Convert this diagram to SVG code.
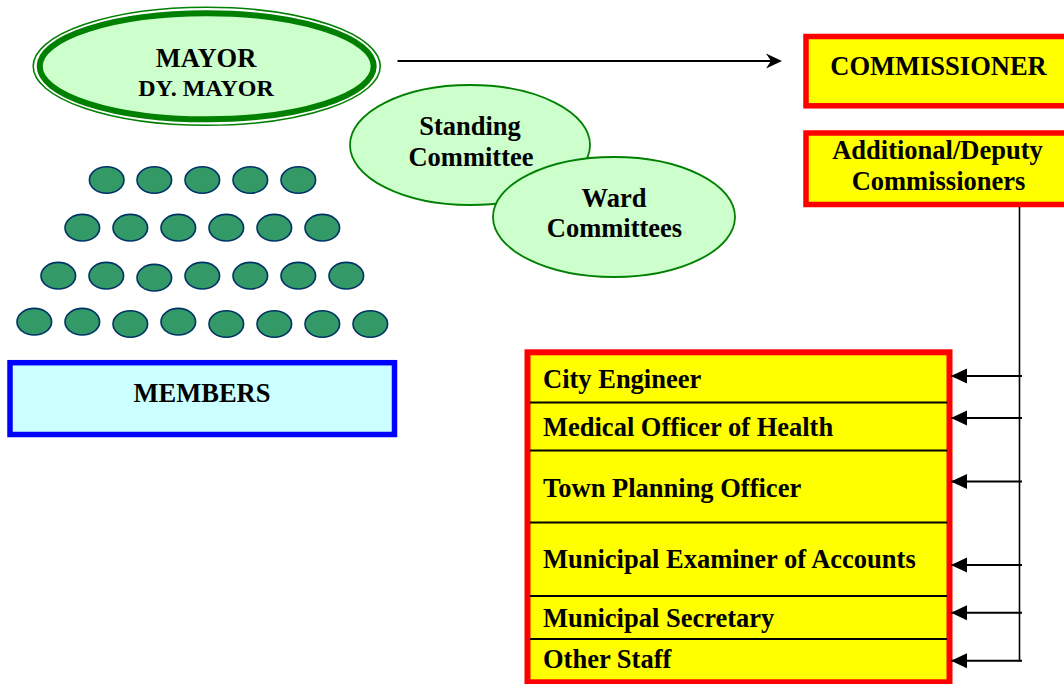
<svg xmlns="http://www.w3.org/2000/svg" width="1064" height="684" viewBox="0 0 1064 684">
<style>
.t{font-family:"Liberation Serif","Times New Roman",serif;font-weight:bold;font-size:26.5px;fill:#000}
.c{text-anchor:middle}
.com{fill:#CCFFCC;stroke:#008000;stroke-width:1.8}
.dot{fill:#339966;stroke:#003366;stroke-width:1.6}
.box{fill:#FFFF00;stroke:#FF0000;stroke-width:5.5}
.div{stroke:#000;stroke-width:2}
.conn{stroke:#000;stroke-width:2;fill:none}
</style>
<defs>
<marker id="tri" viewBox="0 0 16 16" refX="16" refY="8" markerWidth="16" markerHeight="16" markerUnits="userSpaceOnUse" orient="auto">
<path d="M0,0.5 L16,8 L0,15.5 Z" fill="#000"/>
</marker>
</defs>
<rect width="1064" height="684" fill="#fff"/>

<g id="mayor">
<ellipse cx="206.7" cy="66.3" rx="173.5" ry="59" fill="none" stroke="#008000" stroke-width="1.6"/>
<ellipse cx="206.7" cy="66.3" rx="167" ry="53" fill="#CCFFCC" stroke="#008000" stroke-width="6"/>
<text class="t c" x="206" y="66.7">MAYOR</text>
<text class="t c" x="206" y="95.7" style="font-size:24px">DY. MAYOR</text>
</g>

<g id="standing-committee">
<ellipse class="com" cx="470" cy="145" rx="120" ry="60"/>
<text class="t c" x="470" y="135">Standing</text>
<text class="t c" x="471" y="166">Committee</text>
</g>

<g id="ward-committees">
<ellipse class="com" cx="614" cy="217" rx="121" ry="60"/>
<text class="t c" x="614" y="207">Ward</text>
<text class="t c" x="614.5" y="237.3">Committees</text>
</g>

<g id="members-dots">
<g class="dot">
<ellipse cx="106.7" cy="180" rx="17.3" ry="13.3"/>
<ellipse cx="154.3" cy="180" rx="17.3" ry="13.3"/>
<ellipse cx="202.3" cy="180" rx="17.3" ry="13.3"/>
<ellipse cx="250.3" cy="180" rx="17.3" ry="13.3"/>
<ellipse cx="298.3" cy="180" rx="17.3" ry="13.3"/>
<ellipse cx="82.3" cy="227.7" rx="17.3" ry="13.3"/>
<ellipse cx="130.3" cy="227.7" rx="17.3" ry="13.3"/>
<ellipse cx="178.3" cy="227.7" rx="17.3" ry="13.3"/>
<ellipse cx="226.3" cy="227.7" rx="17.3" ry="13.3"/>
<ellipse cx="274.3" cy="227.7" rx="17.3" ry="13.3"/>
<ellipse cx="322.3" cy="227.7" rx="17.3" ry="13.3"/>
<ellipse cx="58.3" cy="275.7" rx="17.3" ry="13.3"/>
<ellipse cx="106.3" cy="275.7" rx="17.3" ry="13.3"/>
<ellipse cx="154.3" cy="277.7" rx="17.3" ry="13.3"/>
<ellipse cx="202.3" cy="275.7" rx="17.3" ry="13.3"/>
<ellipse cx="250.3" cy="275.7" rx="17.3" ry="13.3"/>
<ellipse cx="298.3" cy="275.7" rx="17.3" ry="13.3"/>
<ellipse cx="346.3" cy="275.7" rx="17.3" ry="13.3"/>
<ellipse cx="34.3" cy="321.7" rx="17.3" ry="13.3"/>
<ellipse cx="82.3" cy="321.7" rx="17.3" ry="13.3"/>
<ellipse cx="130.3" cy="324" rx="17.3" ry="13.3"/>
<ellipse cx="178.3" cy="321.7" rx="17.3" ry="13.3"/>
<ellipse cx="226.3" cy="324" rx="17.3" ry="13.3"/>
<ellipse cx="274.3" cy="324" rx="17.3" ry="13.3"/>
<ellipse cx="322.3" cy="324" rx="17.3" ry="13.3"/>
<ellipse cx="370.3" cy="324" rx="17.3" ry="13.3"/>
</g>
</g>

<g id="members">
<rect x="10" y="362.7" width="384.5" height="71.8" fill="#CCFFFF" stroke="#0000FF" stroke-width="5.5"/>
<text class="t c" x="202" y="402">MEMBERS</text>
</g>

<g id="commissioner">
<rect class="box" x="806" y="36.5" width="270" height="69.3"/>
<text class="t c" x="938.5" y="75">COMMISSIONER</text>
</g>

<g id="additional-deputy">
<rect class="box" x="806" y="133" width="270" height="71.5"/>
<text class="t c" x="937.5" y="159.3">Additional/Deputy</text>
<text class="t c" x="938.5" y="190">Commissioners</text>
</g>

<g id="officers">
<rect class="box" x="527.5" y="352.3" width="422" height="330" style="stroke-width:6"/>
<line class="div" x1="530" y1="402.5" x2="947" y2="402.5"/>
<line class="div" x1="530" y1="450.5" x2="947" y2="450.5"/>
<line class="div" x1="530" y1="522.5" x2="947" y2="522.5"/>
<line class="div" x1="530" y1="596" x2="947" y2="596"/>
<line class="div" x1="530" y1="639" x2="947" y2="639"/>
<text class="t" x="543" y="388.3">City Engineer</text>
<text class="t" x="543" y="435.7">Medical Officer of Health</text>
<text class="t" x="543" y="496.7">Town Planning Officer</text>
<text class="t" x="543" y="568.3">Municipal Examiner of Accounts</text>
<text class="t" x="543" y="626.7">Municipal Secretary</text>
<text class="t" x="543" y="668.3">Other Staff</text>
</g>

<g id="connectors">
<line class="conn" x1="397.5" y1="61" x2="776" y2="61"/>
<path d="M782,61 L766,53.5 L771,61 L766,68.5 Z" fill="#000"/>
<line x1="1019.5" y1="207" x2="1019.5" y2="661.5" stroke="#000" stroke-width="1.6"/>
<path class="conn" d="M1022,376 H951" marker-end="url(#tri)"/>
<path class="conn" d="M1022,418 H951" marker-end="url(#tri)"/>
<path class="conn" d="M1022,481.5 H951" marker-end="url(#tri)"/>
<path class="conn" d="M1022,565 H951" marker-end="url(#tri)"/>
<path class="conn" d="M1022,612.7 H951" marker-end="url(#tri)"/>
<path class="conn" d="M1022,660.7 H951" marker-end="url(#tri)"/>
</g>
</svg>
